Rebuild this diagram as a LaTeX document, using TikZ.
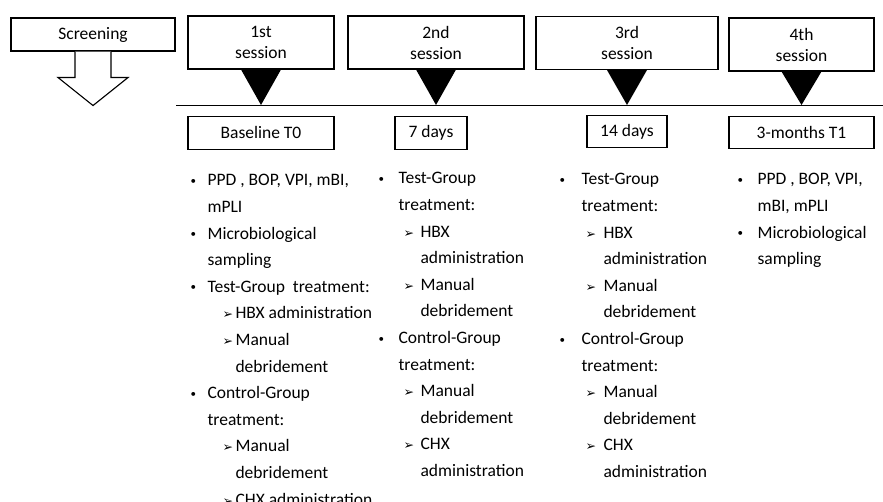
\documentclass[tikz,border=0pt]{standalone}
\usepackage{fontspec}
\setmainfont{Carlito}
\newfontfamily\symfont{DejaVu Sans}
\usetikzlibrary{positioning}

% indents of the lists
\newlength\bulw
\newlength\subl
\newlength\subw
\newcommand{\smallbul}{\hspace*{1pt}\raisebox{1.5pt}{\fontsize{11}{11}\selectfont\textbullet}}
\newcommand{\pitem}[1]{\makebox[\bulw][l]{\smallbul}#1}
\newcommand{\pcont}[1]{\hspace*{\bulw}#1}
\newcommand{\sitem}[1]{\hspace*{\subl}\makebox[\subw][l]{{\fontsize{12.5}{12.5}\symfont\symbol{"27A2}}}#1}
\newcommand{\scont}[1]{\hspace*{\subl}\hspace*{\subw}#1}

\begin{document}
\begin{tikzpicture}[
            x = 1pt, y = -1pt, % pixel grid, y down
            line width = 1.1pt
        ]

        \tikzstyle{sessbox}=[
            draw,
            inner sep = 0pt,
            minimum height = 53pt,
            align = center,
            font = \fontsize{17.5}{21}\selectfont
        ]
        \tikzstyle{daybox}=[
            draw,
            inner sep = 0pt,
            minimum height = 33pt,
            font = \fontsize{17.5}{21}\selectfont
        ]
        \tikzstyle{plist}=[
            anchor = north west,
            inner sep = 0pt,
            align = left,
            font = \fontsize{17.5}{26.6}\selectfont
        ]

        \useasboundingbox (0,0) rectangle (883,502);

        % screening
        \node[daybox, minimum width = 164pt] (scr) at (93,34.5) {Screening};
        \draw[fill = white] ([xshift=-18pt]scr.south) -- ++(0,26) -- ++(-17,0)
            -- ++(35,28) -- ++(35,-28) -- ++(-17,0) -- ++(0,-26);

        % sessions
        \node[sessbox, minimum width = 146pt] (S1) at (261,42.5) {1st\\session};
        \node[sessbox, minimum width = 176pt] (S2) at (436,42.5) {2nd\\session};
        \node[sessbox, minimum width = 182pt] (S3) at (627,43) {3rd\\session};
        \node[sessbox, minimum width = 145pt] (S4) at (801.5,44.5) {4th\\session};

        % time line
        \coordinate (TL0) at (176,105);
        \coordinate (TL1) at (883,105);
        \draw[line width = 0.9pt] (TL0) -- (TL1);

        \fill ([xshift=-20pt]S1.south) -- ([xshift=20pt]S1.south) -- (S1.south |- TL0) -- cycle;
        \fill ([xshift=-20pt]S2.south) -- ([xshift=20pt]S2.south) -- (S2.south |- TL0) -- cycle;
        \fill ([xshift=-20pt]S3.south) -- ([xshift=20pt]S3.south) -- (S3.south |- TL0) -- cycle;
        \fill ([xshift=-20pt]S4.south) -- ([xshift=20pt]S4.south) -- (S4.south |- TL0) -- cycle;

        % time points
        \node[daybox, minimum width = 146pt] (D1) [below = 46pt of S1] {Baseline T0};
        \node[daybox, minimum width = 72pt] (D2) [below = 46pt of S2, xshift = -5pt] {7 days};
        \node[daybox, minimum width = 80pt, minimum height = 32pt] (D3) [below = 45pt of S3] {14 days};
        \node[daybox, minimum width = 145pt, minimum height = 32pt] (D4) [below = 44pt of S4] {3-months T1};

        % procedures
        \node[plist, execute at begin node = {\setlength\bulw{18pt}\setlength\subl{33pt}\setlength\subw{13pt}}]
            (L1) at (189,174) {\pitem{PPD , BOP, VPI, mBI,}\\ \pcont{mPLI}\\
            \pitem{Microbiological}\\ \pcont{sampling}\\
            \pitem{Test-Group\ \ treatment:}\\
            \sitem{HBX administration}\\ \sitem{Manual}\\ \scont{debridement}\\
            \pitem{Control-Group}\\ \pcont{treatment:}\\
            \sitem{Manual}\\ \scont{debridement}\\ \sitem{CHX administration}};
        \node[plist, execute at begin node = {\setlength\bulw{21pt}\setlength\subl{26pt}\setlength\subw{17pt}}]
            (L2) at (377,172) {\pitem{Test-Group}\\ \pcont{treatment:}\\
            \sitem{HBX}\\ \scont{administration}\\ \sitem{Manual}\\ \scont{debridement}\\
            \pitem{Control-Group}\\ \pcont{treatment:}\\
            \sitem{Manual}\\ \scont{debridement}\\ \sitem{CHX}\\ \scont{administration}};
        \node[plist, execute at begin node = {\setlength\bulw{23pt}\setlength\subl{27pt}\setlength\subw{18pt}}]
            (L3) at (558,173) {\pitem{Test-Group}\\ \pcont{treatment:}\\
            \sitem{HBX}\\ \scont{administration}\\ \sitem{Manual}\\ \scont{debridement}\\
            \pitem{Control-Group}\\ \pcont{treatment:}\\
            \sitem{Manual}\\ \scont{debridement}\\ \sitem{CHX}\\ \scont{administration}};
        \node[plist, execute at begin node = {\setlength\bulw{21pt}}]
            (L4) at (736,173) {\pitem{PPD , BOP, VPI,}\\ \pcont{mBI, mPLI}\\
            \pitem{Microbiological}\\ \pcont{sampling}};

\end{tikzpicture}
\end{document}
